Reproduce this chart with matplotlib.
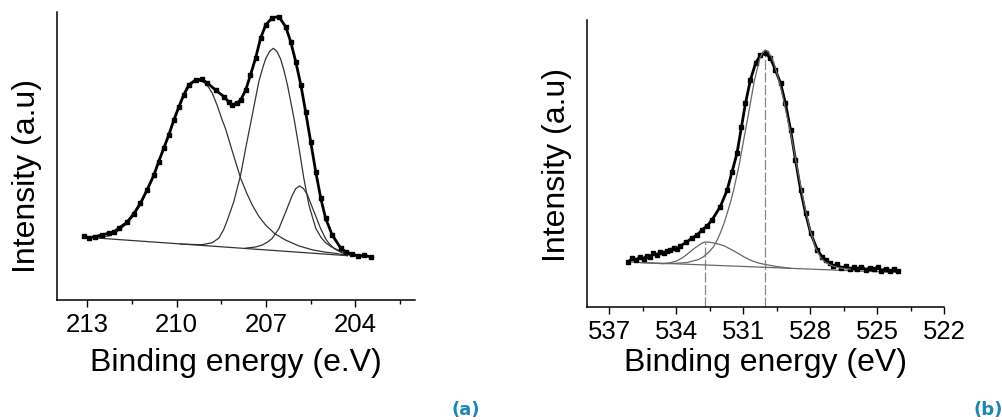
import numpy as np
import matplotlib
matplotlib.use("Agg")
import matplotlib.pyplot as plt
from matplotlib.ticker import MultipleLocator

plt.rcParams['font.family'] = ['Liberation Sans', 'DejaVu Sans']

# ---- panel (a): S 2p ----
a_ev = [213.11, 212.95, 212.72, 212.5, 212.27, 212.1, 211.94, 211.66, 211.44, 211.21, 210.99,
        210.76, 210.60, 210.43, 210.26, 210.09, 209.92, 209.76, 209.59, 209.36, 209.16,
        208.97, 208.69, 208.41, 208.25, 208.13, 207.98, 207.85, 207.68, 207.52, 207.35,
        207.18, 207.01, 206.79, 206.57, 206.34, 206.17, 206.00, 205.83, 205.67, 205.50,
        205.33, 205.16, 205.00, 204.78, 204.49, 204.3, 204.10, 203.9, 203.7, 203.49]
a_int = [22.2, 21.6, 22.0, 22.6, 23.2, 23.6, 24.9, 27.0, 29.9, 33.6, 38.2,
         43.4, 48.0, 52.7, 57.3, 62.5, 67.1, 71.2, 74.7, 76.4, 76.6,
         75.4, 72.9, 70.6, 68.8, 67.7, 68.4, 69.4, 72.9, 78.1, 83.9,
         90.9, 95.5, 98.0, 98.4, 94.9, 89.7, 82.7, 74.7, 65.4, 55.0,
         44.5, 35.3, 28.4, 22.6, 18.0, 16.6, 15.9, 15.2, 15.5, 15.0]

a_base_ev = [212.79, 204.27]
a_base_int = [21.6, 15.4]

a_p1_ev = [212.79, 212.5, 212.27, 212.1, 211.94, 211.66, 211.44, 211.21, 210.99, 210.76,
           210.60, 210.43, 210.26, 210.09, 209.92, 209.76, 209.59, 209.45, 209.3, 209.16,
           209.03, 208.92, 208.80, 208.63, 208.47, 208.36, 208.13, 207.85, 207.65, 207.46,
           207.25, 207.01, 206.7, 206.34, 205.9, 205.44, 205.0, 204.66, 204.27]
a_p1_int = [21.6, 21.9, 22.3, 23.0, 24.2, 26.5, 29.4, 33.1, 37.8, 43.0,
            47.6, 52.3, 57.0, 62.1, 66.7, 70.7, 73.9, 75.4, 76.1, 76.0,
            75.2, 73.8, 71.8, 67.4, 62.5, 59.6, 51.7, 42.3, 37.2, 33.0,
            29.2, 26.0, 23.0, 20.8, 18.8, 17.4, 16.6, 16.2, 15.4]

a_p2_ev = [209.87, 209.14, 208.8, 208.58, 208.42, 208.30, 208.08, 207.85, 207.68, 207.46,
           207.24, 207.1, 207.01, 206.88, 206.75, 206.63, 206.51, 206.4, 206.28, 206.06,
           205.89, 205.73, 205.56, 205.33, 205.15, 205.00, 204.8, 204.55, 204.27]
a_p2_int = [19.4, 19.2, 19.9, 21.5, 24.4, 27.6, 34.1, 43.4, 52.7, 64.2,
            75.8, 80.9, 83.7, 86.3, 87.4, 86.3, 83.7, 79.9, 74.7, 63.1,
            52.7, 42.3, 33.0, 24.9, 21.7, 19.9, 18.4, 17.2, 16.0]

a_p3_ev = [207.68, 207.35, 207.12, 206.95, 206.79, 206.57, 206.34, 206.12, 206.0, 205.87,
           205.74, 205.61, 205.39, 205.17, 205.0, 204.89, 204.7, 204.44, 204.16]
a_p3_int = [18.0, 18.4, 19.1, 20.1, 21.4, 24.7, 30.5, 36.3, 38.7, 39.6,
            38.7, 36.5, 30.7, 24.9, 21.3, 19.7, 17.8, 16.3, 15.5]

a_ticks = [213, 210, 207, 204]

# ---- panel (b): O 1s ----
b_ev = [536.13, 535.95, 535.8, 535.61, 535.45, 535.3, 535.15, 535.01, 534.85, 534.7,
        534.55, 534.41, 534.25, 534.1, 533.95, 533.81, 533.55, 533.29, 533.05, 532.84,
        532.6, 532.39, 532.02, 531.71, 531.49, 531.27, 531.07, 530.89, 530.67, 530.44,
        530.22, 529.99, 529.77, 529.55, 529.32, 529.10, 528.87, 528.65, 528.42, 528.20,
        527.97, 527.67, 527.45, 527.3, 527.1, 526.95, 526.78, 526.6, 526.4, 526.2,
        526.05, 525.88, 525.7, 525.5, 525.3, 525.13, 524.95, 524.8, 524.6, 524.4,
        524.23, 524.08]
b_int = [15.9, 17.0, 16.3, 17.6, 16.9, 18.0, 17.6, 18.8, 18.2, 19.3,
         18.9, 19.6, 19.9, 20.6, 20.3, 21.3, 22.6, 24.0, 25.2, 26.9,
         28.4, 30.4, 35.0, 40.8, 47.2, 53.6, 62.8, 71.0, 79.1, 84.9,
         87.8, 88.4, 86.7, 82.6, 78.0, 71.0, 61.7, 51.3, 40.8, 32.7,
         25.8, 19.9, 17.5, 16.5, 15.3, 14.4, 14.9, 13.6, 14.3, 13.2,
         14.0, 13.4, 14.2, 13.1, 13.8, 13.3, 14.0, 12.8, 13.5, 12.6,
         13.4, 12.5]

b_base_ev = [536.15, 524.1]
b_base_int = [15.8, 12.1]

b_main_ev = [534.6, 534.0, 533.51, 533.0, 532.77, 532.5, 532.32, 532.17, 532.02, 531.86,
             531.71, 531.56, 531.42, 531.19, 530.97, 530.75, 530.62, 530.5, 530.37, 530.25,
             530.12, 530.0, 529.88, 529.75, 529.62, 529.5, 529.25, 529.0, 528.75, 528.5,
             528.25, 528.0, 527.75, 527.5, 527.3, 527.0, 526.6, 526.2]
b_main_int = [15.2, 15.3, 15.6, 16.6, 17.6, 19.5, 21.1, 23.2, 25.8, 29.0,
              32.7, 36.6, 40.8, 48.9, 58.2, 67.5, 73.3, 78.5, 82.8, 86.5,
              88.8, 89.6, 89.0, 87.5, 85.1, 82.0, 74.5, 65.5, 56.0, 45.5,
              35.5, 27.0, 20.6, 17.0, 15.6, 14.4, 13.6, 13.3]

b_small_ev = [535.6, 534.6, 534.26, 533.95, 533.7, 533.45, 533.2, 533.0, 532.85, 532.72,
              532.55, 532.38, 532.1, 531.87, 531.6, 531.34, 531.12, 530.9, 530.6, 530.3,
              530.0, 529.5, 528.9]
b_small_int = [15.5, 15.2, 15.5, 16.2, 17.3, 18.8, 20.4, 21.5, 22.3, 22.7,
               22.7, 22.5, 22.0, 21.5, 20.4, 19.3, 18.3, 17.3, 16.2, 15.4,
               14.9, 14.2, 13.6]

b_peaks = [532.72, 530.0]
b_peak_tops = [22.7, 89.6]
b_ticks = [537, 534, 531, 528, 525, 522]

W, H = 1003, 420
fig = plt.figure(figsize=(W / 100, H / 100), dpi=100)


def px_box(x0, y0, x1, y1):
    return [x0 / W, 1 - y1 / H, (x1 - x0) / W, (y1 - y0) / H]


def style_axes(ax, xlim, ticks):
    ax.set_xlim(*xlim)
    ax.set_ylim(0, 100)
    for s in ['top', 'right']:
        ax.spines[s].set_visible(False)
    for s in ['left', 'bottom']:
        ax.spines[s].set_linewidth(1.1)
    ax.set_yticks([])
    ax.set_xticks(ticks)
    ax.xaxis.set_minor_locator(MultipleLocator(1.5))
    ax.tick_params(axis='x', which='major', length=5, width=1, labelsize=18.5, pad=4, direction='out')
    ax.tick_params(axis='x', which='minor', length=3, width=1, direction='out')


# (a)
ax1 = fig.add_axes(px_box(57.3, 12, 415, 300))
style_axes(ax1, (214, 202), a_ticks)
ax1.plot(a_base_ev, a_base_int, color='#333333', lw=0.9)
ax1.plot(a_p1_ev, a_p1_int, color='#333333', lw=0.9)
ax1.plot(a_p2_ev, a_p2_int, color='#333333', lw=0.9)
ax1.plot(a_p3_ev, a_p3_int, color='#333333', lw=0.9)
ax1.plot(a_ev, a_int, color='black', lw=2.0, marker='s', ms=3.2)

# (b)
ax2 = fig.add_axes(px_box(586.7, 20, 944, 307.3))
style_axes(ax2, (538, 522), b_ticks)
for x, top in zip(b_peaks, b_peak_tops):
    ax2.plot([x, x], [0, top], color='#888888', lw=0.9, dashes=(8, 2))
ax2.plot(b_base_ev, b_base_int, color='#666666', lw=0.9)
ax2.plot(b_small_ev, b_small_int, color='#666666', lw=0.9)
ax2.plot(b_ev, b_int, color='black', lw=2.0, marker='s', ms=3.2)
ax2.plot(b_main_ev, b_main_int, color='#666666', lw=0.9)


def ftext(x, y, s, **kw):
    fig.text(x / W, 1 - y / H, s, ha='center', va='center', **kw)


ftext(236, 363, 'Binding energy (e.V)', fontsize=23)
ftext(27, 176, 'Intensity (a.u)', fontsize=23, rotation=90)
ftext(766, 363, 'Binding energy (eV)', fontsize=23)
ftext(557, 165, 'Intensity (a.u)', fontsize=23, rotation=90)
ftext(466, 410, '(a)', fontsize=13, fontweight='bold', color='#1a87b5', family='DejaVu Sans')
ftext(988, 410, '(b)', fontsize=13, fontweight='bold', color='#1a87b5', family='DejaVu Sans')

fig.savefig('out.png', dpi=100)
